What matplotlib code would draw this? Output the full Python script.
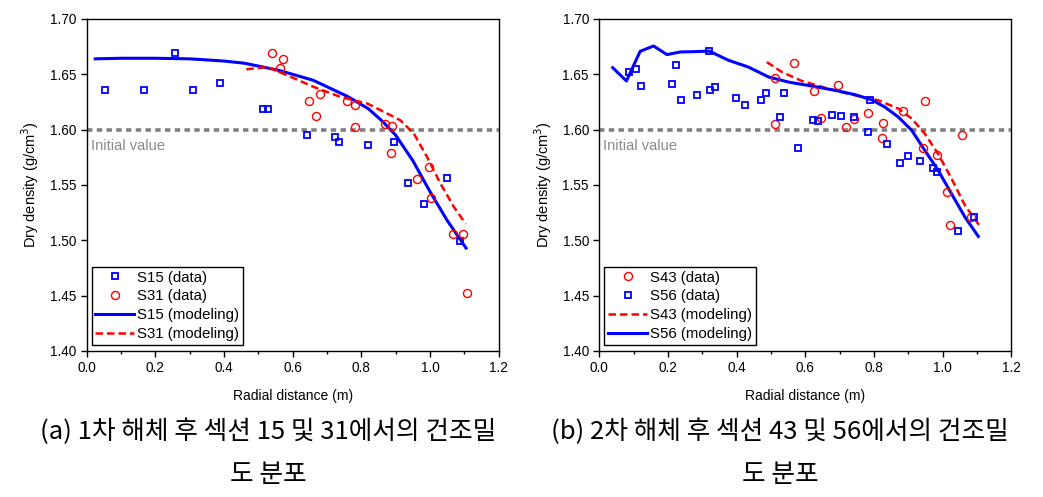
import numpy as np
import matplotlib
matplotlib.use("Agg")
import matplotlib.pyplot as plt
from matplotlib.ticker import MultipleLocator, FormatStrFormatter

plt.rcParams['font.family'] = ['Liberation Sans', 'Noto Sans CJK KR', 'DejaVu Sans']

# (a) section 15 / 31 data
s15_x = [0.052, 0.167, 0.257, 0.309, 0.387, 0.514, 0.528, 0.642, 0.724, 0.736,
         0.818, 0.895, 0.936, 0.983, 1.049, 1.087]
s15_y = [1.636, 1.636, 1.669, 1.636, 1.6425, 1.619, 1.619, 1.5955, 1.593, 1.589,
         1.586, 1.589, 1.552, 1.533, 1.556, 1.499]
s31_x = [0.540, 0.573, 0.562, 0.648, 0.679, 0.668, 0.757, 0.782, 0.781, 0.869,
         0.888, 0.885, 0.997, 0.961, 1.003, 1.066, 1.097, 1.108]
s31_y = [1.669, 1.664, 1.656, 1.6256, 1.632, 1.612, 1.626, 1.622, 1.602, 1.605,
         1.603, 1.579, 1.566, 1.555, 1.5385, 1.5056, 1.5056, 1.452]
s15_mx = [0.025, 0.1, 0.2, 0.3, 0.4, 0.46, 0.56, 0.66, 0.76, 0.82, 0.86, 0.90,
          0.95, 1.0, 1.05, 1.105]
s15_my = [1.664, 1.6645, 1.6645, 1.664, 1.662, 1.660, 1.6536, 1.6446, 1.630,
          1.619, 1.608, 1.595, 1.572, 1.544, 1.518, 1.493]
s31_mx = [0.465, 0.526, 0.585, 0.662, 0.740, 0.818, 0.876, 0.914, 0.953, 0.992,
          1.031, 1.070, 1.104]
s31_my = [1.6545, 1.6566, 1.649, 1.6385, 1.6295, 1.6235, 1.6145, 1.6084, 1.5964,
          1.575, 1.551, 1.530, 1.515]

# (b) section 43 / 56 data
s43_x = [0.567, 0.512, 0.512, 0.626, 0.647, 0.695, 0.719, 0.743, 0.784, 0.825,
         0.822, 0.884, 0.948, 0.942, 0.983, 1.013, 1.022, 1.055, 1.084]
s43_y = [1.6606, 1.6464, 1.6054, 1.6353, 1.6105, 1.6407, 1.6024, 1.6093, 1.615,
         1.6063, 1.5924, 1.6166, 1.6256, 1.5834, 1.5768, 1.5436, 1.5135, 1.5955, 1.521]
s56_x = [0.086, 0.106, 0.122, 0.222, 0.211, 0.238, 0.285, 0.320, 0.322, 0.338,
         0.397, 0.423, 0.471, 0.486, 0.538, 0.527, 0.580, 0.623, 0.638, 0.677,
         0.703, 0.742, 0.789, 0.784, 0.837, 0.875, 0.898, 0.934, 0.973, 0.983,
         1.044, 1.092]
s56_y = [1.652, 1.6548, 1.6398, 1.6588, 1.641, 1.627, 1.631, 1.6714, 1.6355, 1.6385,
         1.629, 1.622, 1.627, 1.6335, 1.633, 1.611, 1.583, 1.6084, 1.608, 1.6135,
         1.612, 1.611, 1.627, 1.598, 1.587, 1.570, 1.576, 1.572, 1.5653, 1.5614,
         1.508, 1.521]
s43_mx = [0.488, 0.532, 0.590, 0.667, 0.745, 0.813, 0.871, 0.910, 0.948, 0.987,
          1.026, 1.065, 1.109]
s43_my = [1.6611, 1.652, 1.644, 1.637, 1.631, 1.6265, 1.619, 1.610, 1.5964, 1.578,
          1.5557, 1.5316, 1.5126]
s56_mx = [0.039, 0.079, 0.119, 0.158, 0.197, 0.236, 0.279, 0.320, 0.376, 0.434,
          0.493, 0.551, 0.619, 0.687, 0.745, 0.793, 0.832, 0.871, 0.910, 0.948,
          0.987, 1.026, 1.065, 1.104]
s56_my = [1.656, 1.644, 1.6708, 1.6756, 1.6678, 1.6702, 1.6705, 1.671, 1.6627, 1.6566,
          1.6476, 1.643, 1.6394, 1.6355, 1.6316, 1.627, 1.6204, 1.6114, 1.5994, 1.5813,
          1.5632, 1.542, 1.521, 1.5035]

initial_value = 1.60
captions = ["(a) 1차 해체 후 섹션 15 및 31에서의 건조밀\n도 분포",
            "(b) 2차 해체 후 섹션 43 및 56에서의 건조밀\n도 분포"]

fig = plt.figure(figsize=(10.43, 4.97), dpi=100)
ax1 = fig.add_axes([0.0831, 0.2938, 0.395, 0.668])
ax2 = fig.add_axes([0.5746, 0.2938, 0.395, 0.668])

sq = dict(marker='s', ls='none', ms=4.7, mfc='none', mec='#0000ff', mew=1.3)
ci = dict(marker='o', ls='none', ms=5.8, mfc='none', mec='#ff0000', mew=1.0)
blue_line = dict(color='#0000ff', lw=2.2, ls='-')
red_line = dict(color='#ff0000', lw=1.8, ls=(0, (3, 1.6)))

# panel (a)
ax1.plot(s15_mx, s15_my, label='S15 (modeling)', zorder=3, **blue_line)
ax1.plot(s31_mx, s31_my, label='S31 (modeling)', zorder=3, **red_line)
ax1.plot(s15_x, s15_y, label='S15 (data)', zorder=4, **sq)
ax1.plot(s31_x, s31_y, label='S31 (data)', zorder=4, **ci)
order1 = [2, 3, 0, 1]

# panel (b)
ax2.plot(s43_mx, s43_my, label='S43 (modeling)', zorder=3, **red_line)
ax2.plot(s56_mx, s56_my, label='S56 (modeling)', zorder=3, **blue_line)
ax2.plot(s43_x, s43_y, label='S43 (data)', zorder=4, **ci)
ax2.plot(s56_x, s56_y, label='S56 (data)', zorder=4, **sq)
order2 = [2, 3, 0, 1]

for ax, order in [(ax1, order1), (ax2, order2)]:
    ax.axhline(initial_value, color='#808080', lw=2.6, ls=(0, (1.5, 1.2)), zorder=2)
    ax.text(0.012, 1.585, 'Initial value', color='#8a8a8a', fontsize=10.5,
            va='center', ha='left')
    ax.set_xlim(0, 1.2)
    ax.set_ylim(1.40, 1.70)
    ax.xaxis.set_major_locator(MultipleLocator(0.2))
    ax.xaxis.set_minor_locator(MultipleLocator(0.1))
    ax.yaxis.set_major_locator(MultipleLocator(0.05))
    ax.xaxis.set_major_formatter(FormatStrFormatter('%.1f'))
    ax.yaxis.set_major_formatter(FormatStrFormatter('%.2f'))
    ax.tick_params(axis='both', which='major', direction='out', length=4,
                   width=1, labelsize=9.8, top=False, right=False)
    ax.tick_params(axis='x', which='minor', direction='out', length=2.5, width=1)
    for sp in ax.spines.values():
        sp.set_linewidth(1.0)
    ax.set_xlabel('Radial distance (m)', fontsize=10, labelpad=10)
    ax.set_ylabel('Dry density (g/cm$^3$)', fontsize=10.5, labelpad=6)

    h, l = ax.get_legend_handles_labels()
    leg = ax.legend([h[i] for i in order], [l[i] for i in order],
                    loc='lower left', bbox_to_anchor=(0.005, 0.01),
                    fontsize=10.8, frameon=True, fancybox=False, framealpha=1,
                    edgecolor='black', handlelength=2.6, handletextpad=0.2,
                    labelspacing=0.32, borderpad=0.25, borderaxespad=0.2)
    leg.get_frame().set_linewidth(1.0)

cap_font = ['Noto Sans CJK KR', 'DejaVu Sans']
fig.text(0.257, 0.088, captions[0], ha='center', va='center', fontsize=18.5,
         family=cap_font, linespacing=1.85)
fig.text(0.748, 0.088, captions[1], ha='center', va='center', fontsize=18.5,
         family=cap_font, linespacing=1.85)

fig.savefig('out.png', dpi=100)
